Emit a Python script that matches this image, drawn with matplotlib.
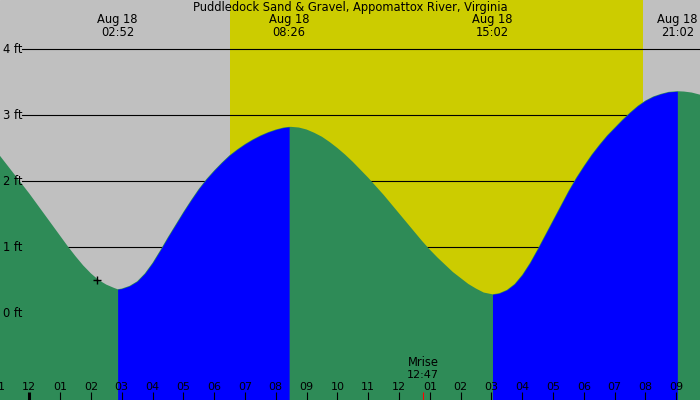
import matplotlib
matplotlib.use("Agg")
import matplotlib.pyplot as plt
import numpy as np

STATION = "Puddledock Sand & Gravel, Appomattox River, Virginia"
DAY = "Aug 18"

# hours after midnight Aug 18 and water level in ft
tideHours = [-1.0, -0.75, -0.5, -0.25, 0.0, 0.25, 0.5, 0.75, 1.0, 1.25,
             1.5, 1.75, 2.0, 2.25, 2.5, 2.75, 2.867,
             3.0, 3.25, 3.5, 3.75, 4.0, 4.25, 4.5, 4.75, 5.0, 5.25, 5.5,
             5.75, 6.0, 6.25, 6.5, 6.75, 7.0, 7.25, 7.5, 7.75, 8.0, 8.25,
             8.433,
             8.5, 8.75, 9.0, 9.25, 9.5, 9.75, 10.0, 10.25, 10.5, 10.75,
             11.0, 11.25, 11.5, 11.75, 12.0, 12.25, 12.5, 12.75, 13.0,
             13.25, 13.5, 13.75, 14.0, 14.25, 14.5, 14.75, 15.033,
             15.25, 15.5, 15.75, 16.0, 16.25, 16.5, 16.75, 17.0, 17.25,
             17.5, 17.75, 18.0, 18.25, 18.5, 18.75, 19.0, 19.25, 19.5,
             19.75, 20.0, 20.25, 20.5, 20.75, 21.033,
             21.25, 21.5, 21.75, 22.0]
tideFeet = [2.41, 2.26, 2.11, 1.96, 1.81, 1.65, 1.49, 1.33, 1.17, 1.01,
            0.86, 0.72, 0.60, 0.50, 0.43, 0.38, 0.36,
            0.37, 0.41, 0.48, 0.60, 0.76, 0.95, 1.15, 1.34, 1.53, 1.71,
            1.88, 2.03, 2.16, 2.28, 2.39, 2.48, 2.56, 2.63, 2.69, 2.74,
            2.78, 2.81, 2.82,
            2.82, 2.81, 2.78, 2.73, 2.67, 2.59, 2.50, 2.40, 2.29, 2.17,
            2.05, 1.92, 1.79, 1.65, 1.51, 1.37, 1.23, 1.09, 0.96,
            0.84, 0.73, 0.62, 0.53, 0.44, 0.37, 0.31, 0.283,
            0.30, 0.35, 0.44, 0.58, 0.76, 0.97, 1.19, 1.41, 1.63,
            1.85, 2.05, 2.23, 2.40, 2.55, 2.69, 2.81, 2.93, 3.04,
            3.14, 3.22, 3.28, 3.32, 3.35, 3.36,
            3.355, 3.34, 3.31, 3.28]

extremeHours = [2.867, 8.433, 15.033, 21.033]
extremeTimes = ["02:52", "08:26", "15:02", "21:02"]

sunrise, sunset = 6.52, 19.92
moonriseHour, moonriseTime = 12.783, "12:47"
nowHour, nowFeet = 2.21, 0.5

hourTicks = list(range(-1, 22))
hourLabels = ["11", "12", "01", "02", "03", "04", "05", "06", "07", "08",
              "09", "10", "11", "12", "01", "02", "03", "04", "05", "06",
              "07", "08", "09"]
levels = [0, 1, 2, 3, 4]
levelLabels = ["0 ft", "1 ft", "2 ft", "3 ft", "4 ft"]

GRAY = "#c0c0c0"
DAYLIGHT = "#cccc00"
FALLING = "#2e8b57"
RISING = "#0000ff"

fig = plt.figure(figsize=(7, 4), dpi=100)
ax = fig.add_axes([0, 0, 1, 1])
ax.set_xlim(-0.951, 21.769)
ax.set_ylim(-1.318, 4.742)
ax.axis("off")
ax.add_patch(plt.Rectangle((0, 0), 1, 1, transform=ax.transAxes,
                           color=GRAY, zorder=0))

ax.axvspan(sunrise, sunset, color=DAYLIGHT, lw=0, zorder=1)

for lv in levels:
    ax.axhline(lv, xmin=22 / 700, xmax=1, color="black", lw=0.8, zorder=2)

t = np.array(tideHours)
h = np.array(tideFeet)
ax.fill_between(t, -2, h, color=FALLING, lw=0, zorder=3)
bounds = [t[0]] + extremeHours + [t[-1]]
for a, b in zip(bounds[:-1], bounds[1:]):
    m = (t >= a - 1e-6) & (t <= b + 1e-6)
    if h[m][-1] > h[m][0]:
        ax.fill_between(t[m], -2, h[m], color=RISING, lw=0, zorder=4)

ax.plot([nowHour], [nowFeet], marker="+", color="black", ms=6, mew=1,
        zorder=6)

xt = ax.get_xaxis_transform()
fs = 8.3

for lv, lab in zip(levels, levelLabels):
    ax.text(3 / 700, lv - 4 / 66, lab, transform=ax.get_yaxis_transform(),
            ha="left", va="baseline", fontsize=fs, zorder=7)

ax.text(0.5, 1 - 10.5 / 400, STATION, transform=ax.transAxes,
        ha="center", va="baseline", fontsize=fs, zorder=7)
for hr, tm in zip(extremeHours, extremeTimes):
    ax.text(hr, 1 - 22.5 / 400, DAY, transform=xt, ha="center",
            va="baseline", fontsize=fs, zorder=7)
    ax.text(hr, 1 - 36 / 400, tm, transform=xt, ha="center",
            va="baseline", fontsize=fs, zorder=7)

ax.text(moonriseHour, 1 - 366.5 / 400, "Mrise", transform=xt, ha="center",
        va="baseline", fontsize=fs, zorder=7)
ax.text(moonriseHour, 1 - 378 / 400, moonriseTime, transform=xt,
        ha="center", va="baseline", fontsize=8, zorder=7)
ax.vlines(moonriseHour, 0, 8 / 400, transform=xt, color="red", lw=0.8,
          zorder=7)

for hr, lab in zip(hourTicks, hourLabels):
    ax.text(hr, 1 - 389.5 / 400, lab, transform=xt, ha="center",
            va="baseline", fontsize=8, zorder=7)
    ax.vlines(hr, 0, 8 / 400, transform=xt, color="black",
              lw=2.2 if hr == 0 else 0.8, zorder=7)

fig.savefig("out.png", dpi=100)
